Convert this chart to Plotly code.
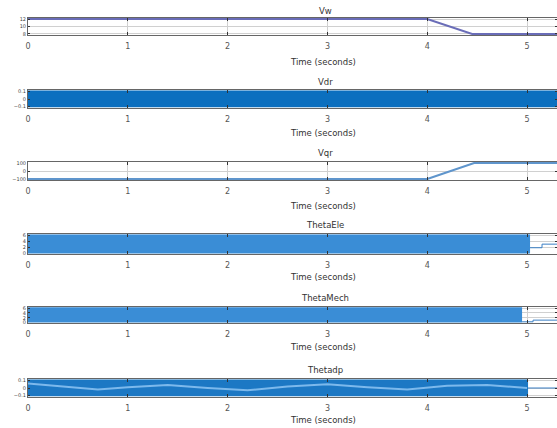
import plotly.graph_objects as go

# ---- data ----
titles = ["Vw", "Vdr", "Vqr", "ThetaEle", "ThetaMech", "Thetadp"]
x_ticks = [0, 1, 2, 3, 4, 5]

vw_t = [0, 4.0, 4.45, 5.3]
vw_v = [12, 12, 8, 8]

vdr_t = [0, 5.3]
vdr_hi = [0.11, 0.11]
vdr_lo = [-0.11, -0.11]

vqr_t = [0, 4.0, 4.47, 5.3]
vqr_v = [-100, -100, 100, 100]

the_t = [0, 5.03]
the_hi = [6.28, 6.28]
the_lo = [0.0, 0.0]
the_tail_t = [5.03, 5.15, 5.15, 5.3]
the_tail_v = [1.9, 1.9, 3.1, 3.1]

thm_t = [0, 4.95]
thm_hi = [6.28, 6.28]
thm_lo = [0.0, 0.0]
thm_tail_t = [4.95, 5.06, 5.06, 5.3]
thm_tail_v = [0.3, 0.3, 1.0, 1.0]

thd_t = [0, 5.01]
thd_hi = [0.11, 0.11]
thd_lo = [-0.11, -0.11]
thd_streak_t = [0, 0.3, 0.7, 1.0, 1.4, 1.8, 2.2, 2.6, 3.0, 3.4, 3.8, 4.2, 4.6, 5.0]
thd_streak_v = [0.06, 0.03, -0.02, 0.01, 0.04, 0.0, -0.03, 0.02, 0.05, 0.01, -0.02, 0.03, 0.04, 0.0]
thd_tail_t = [5.01, 5.3]
thd_tail_v = [0.0, 0.0]

y_ranges = [[7.7, 12.3], [-0.12, 0.12], [-112, 112], [-0.2, 6.5], [-0.2, 6.5], [-0.12, 0.12]]
y_ticks = [[8, 10, 12], [-0.1, 0, 0.1], [-100, 0, 100], [0, 2, 4, 6], [0, 2, 4, 6], [-0.1, 0, 0.1]]

# ---- layout positions (pixels from top) ----
H = 428
boxes = [(18, 35), (90, 108), (162, 180), (234, 254), (307, 323), (379, 397)]
title_y = [11, 82, 153, 225, 298, 370]
xlab_y = [62, 133, 206, 277, 347, 420]

fig = go.Figure()

def add_band(i, t, lo, hi, color):
    xa = "x" if i == 0 else f"x{i+1}"
    ya = "y" if i == 0 else f"y{i+1}"
    fig.add_trace(go.Scatter(x=t, y=lo, mode="lines", line=dict(width=0, color=color),
                             xaxis=xa, yaxis=ya, showlegend=False, hoverinfo="skip"))
    fig.add_trace(go.Scatter(x=t, y=hi, mode="lines", line=dict(width=0.5, color=color),
                             fill="tonexty", fillcolor=color,
                             xaxis=xa, yaxis=ya, showlegend=False, hoverinfo="skip"))

def add_line(i, t, v, color, width=1.5):
    xa = "x" if i == 0 else f"x{i+1}"
    ya = "y" if i == 0 else f"y{i+1}"
    fig.add_trace(go.Scatter(x=t, y=v, mode="lines", line=dict(width=width, color=color),
                             xaxis=xa, yaxis=ya, showlegend=False))

add_line(0, vw_t, vw_v, "#6a6db8", 2)
add_band(1, vdr_t, vdr_lo, vdr_hi, "#0b6fbf")
add_line(2, vqr_t, vqr_v, "#5f95cc", 2)
add_band(3, the_t, the_lo, the_hi, "#3a8dd6")
add_line(3, the_tail_t, the_tail_v, "#3a7fc4", 1)
add_band(4, thm_t, thm_lo, thm_hi, "#3a8dd6")
add_line(4, thm_tail_t, thm_tail_v, "#3a7fc4", 1)
add_band(5, thd_t, thd_lo, thd_hi, "#1c78c4")
add_line(5, thd_streak_t, thd_streak_v, "#7cb9ec", 2)
add_line(5, thd_tail_t, thd_tail_v, "#3a7fc4", 1)

layout = dict(
    width=557, height=428,
    margin=dict(l=28, r=0, t=0, b=0, autoexpand=False),
    paper_bgcolor="white", plot_bgcolor="white",
    font=dict(family="DejaVu Sans, sans-serif", size=8, color="#333333"),
    showlegend=False,
)

annotations = []
for i in range(6):
    top, bot = boxes[i]
    dom = [1 - bot / H, 1 - top / H]
    xk = "xaxis" if i == 0 else f"xaxis{i+1}"
    yk = "yaxis" if i == 0 else f"yaxis{i+1}"
    anchor_x = "y" if i == 0 else f"y{i+1}"
    anchor_y = "x" if i == 0 else f"x{i+1}"
    layout[xk] = dict(domain=[0, 1], anchor=anchor_x, range=[0, 5.3], automargin=False,
                      tickvals=x_ticks, ticks="inside", ticklen=3, tickcolor="#333",
                      showgrid=True, gridcolor="#d0d0d0", gridwidth=1,
                      showline=True, linecolor="#666666", linewidth=1, mirror="ticks",
                      zeroline=False, tickfont=dict(size=8, color="#555"),
                      ticklabelstandoff=3)
    layout[yk] = dict(domain=dom, anchor=anchor_y, range=y_ranges[i], automargin=False,
                      tickvals=y_ticks[i], ticks="inside", ticklen=2, tickcolor="#333",
                      showgrid=True, gridcolor="#d0d0d0",
                      showline=True, linecolor="#666666", linewidth=1, mirror="ticks",
                      zeroline=False, tickfont=dict(size=5, color="#444"))
    xref = "x" if i == 0 else f"x{i+1}"
    annotations.append(dict(text=titles[i], x=2.98, xref=xref, y=1 - title_y[i] / H,
                            yref="paper", showarrow=False, yanchor="middle",
                            font=dict(size=8.5, color="#333")))
    annotations.append(dict(text="Time (seconds)", x=2.96, xref=xref, y=1 - xlab_y[i] / H,
                            yref="paper", showarrow=False, yanchor="middle",
                            font=dict(size=8.5, color="#333")))

layout["annotations"] = annotations
fig.update_layout(**layout)
fig.write_html("out.html", post_script="document.body.style.margin='0';",
               config={"displayModeBar": False})
